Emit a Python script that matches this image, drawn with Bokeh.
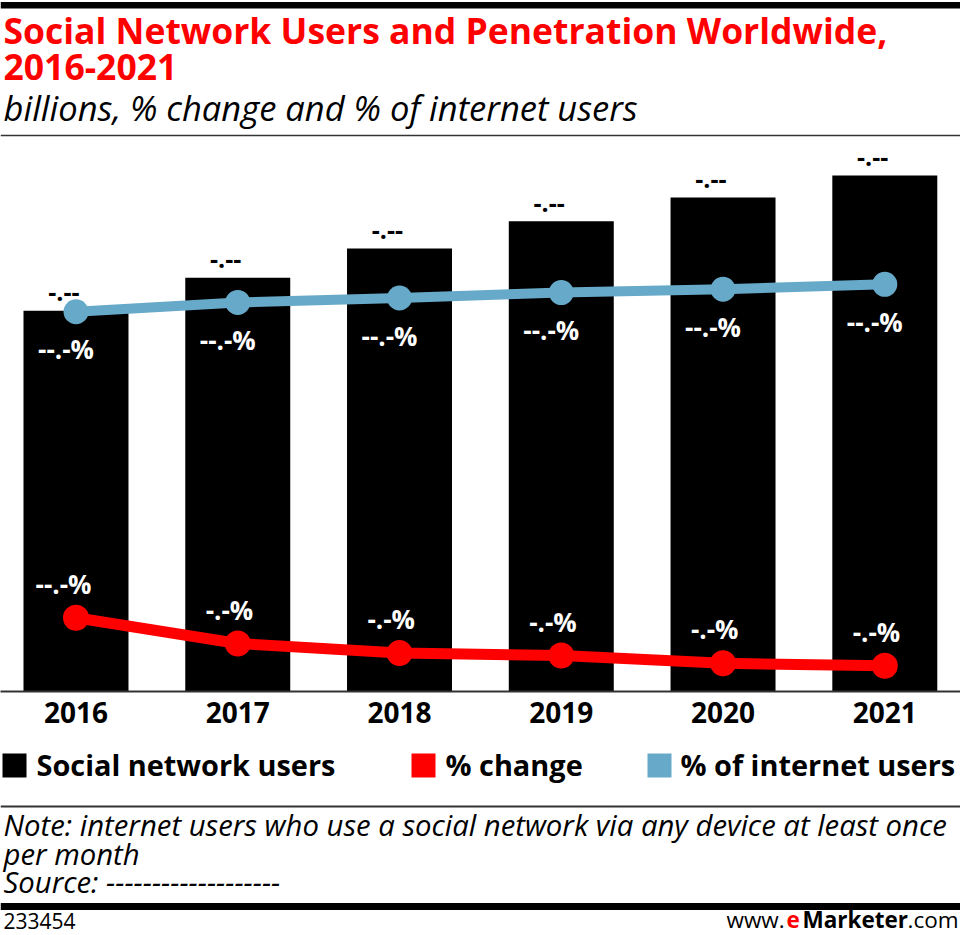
from bokeh.plotting import figure
from bokeh.models import Range1d, LinearAxis, FixedTicker, Span
from bokeh.layouts import column
from bokeh.embed import file_html
from bokeh.resources import INLINE
from bokeh.core.properties import value

# ---------------- data ----------------
years = ["2016", "2017", "2018", "2019", "2020", "2021"]
users_bn = [2.28, 2.46, 2.62, 2.77, 2.90, 3.02]          # social network users, billions
pct_change = [12.3, 8.0, 6.4, 6.0, 4.7, 4.3]              # % change
pct_internet = [69.3, 71.0, 71.8, 72.8, 73.4, 74.3]       # % of internet users
series_names = ["Social network users", "% change", "% of internet users"]
series_colors = ["#000000", "#ff0000", "#67a9c9"]
title_lines = ["Social Network Users and Penetration Worldwide,", "2016-2021"]
subtitle = "billions, % change and % of internet users"
note_lines = ["Note: internet users who use a social network via any device at least once",
              "per month",
              "Source: -------------------"]
chart_id = "233454"
brand = [("www.", "normal", "#000000"), ("e", "bold", "#ff0000"),
         ("Marketer", "bold", "#000000"), (".com", "normal", "#000000")]


def mask(s):
    return "".join("-" if c.isdigit() else c for c in s)


bar_labels = [mask(f"{v:.2f}") for v in users_bn]
change_labels = [mask(f"{v:.1f}%") for v in pct_change]
internet_labels = [mask(f"{v:.1f}%") for v in pct_internet]
idx = list(range(len(years)))

# ---------------- layout constants ----------------
W, H = 960, 935
FONT = value("Open Sans")
BASE = 690.7                      # baseline (px from top)
HA = 740
FRAME_H = round(BASE)
HB = H - HA
BIL0, BIL_PX = 0.197, 182.8
SHARE_PX, CHG_PX = 5.48, 6.0
BL = 0.38                         # baseline correction (em)


def fs(px):
    return f"{px:.1f}px"


def txt(fig, size, dy=0.0, **kw):
    kw.setdefault("text_font", FONT)
    kw.setdefault("text_baseline", "alphabetic")
    kw.setdefault("text_align", "left")
    return fig.text(text_font_size=fs(size), y_offset=dy - BL * size, **kw)


# ---------------- main figure ----------------
p = figure(width=W, height=HA, x_range=Range1d(-0.4667, 5.468), y_range=Range1d(FRAME_H, 0),
           output_backend="svg", toolbar_location=None, x_axis_type=None, y_axis_type=None,
           min_border=0, min_border_bottom=HA - FRAME_H)
p.outline_line_color = None
p.background_fill_color = "white"
p.border_fill_color = "white"
p.extra_x_ranges = {"px": Range1d(0, W)}
p.extra_y_ranges = {
    "bil": Range1d(BIL0, BIL0 + FRAME_H / BIL_PX),
    "share": Range1d(0, FRAME_H / SHARE_PX),
    "chg": Range1d(0, FRAME_H / CHG_PX),
}

ax = LinearAxis(ticker=FixedTicker(ticks=idx),
                major_label_overrides={i: y for i, y in zip(idx, years)})
ax.axis_line_color = "#333333"
ax.axis_line_width = 2
ax.major_tick_line_color = None
ax.minor_tick_line_color = None
ax.major_label_standoff = 4
ax.major_label_text_font = "Open Sans"
ax.major_label_text_font_style = "bold"
ax.major_label_text_font_size = fs(28)
ax.major_label_text_color = "black"
p.add_layout(ax, "below")

# header
txt(p, 35.5, x=[3, 3], y=[43, 80], text=title_lines, x_range_name="px",
    text_font_style="bold", text_color="#ff0000")
txt(p, 34.5, x=[3], y=[120], text=[subtitle], x_range_name="px",
    text_font_style="italic", text_color="black")
p.add_layout(Span(location=4.75, dimension="width", line_color="black", line_width=6.5))
p.add_layout(Span(location=135, dimension="width", line_color="#333333", line_width=1.5))

# bars
p.vbar(x=idx, top=users_bn, bottom=BIL0, width=0.649, y_range_name="bil",
       fill_color=series_colors[0], line_color=None)

# % of internet users
p.line(idx, pct_internet, y_range_name="share", line_color=series_colors[2], line_width=10)
p.scatter(idx, pct_internet, y_range_name="share", size=25, fill_color=series_colors[2],
          line_color=None)
txt(p, 26, dy=47.5, x=idx, y=pct_internet, text=internet_labels, y_range_name="share",
    text_font_style="bold", text_color="white", text_align="right", x_offset=18)

# bar value labels
txt(p, 25, dy=-9, x=idx, y=users_bn, text=bar_labels, y_range_name="bil",
    text_font_style="bold", text_color="black", text_align="right", x_offset=3.5)

# % change
p.line(idx, pct_change, y_range_name="chg", line_color=series_colors[1], line_width=11)
p.scatter(idx, pct_change, y_range_name="chg", size=26, fill_color=series_colors[1],
          line_color=None)
txt(p, 26, dy=-24, x=idx, y=pct_change, text=change_labels, y_range_name="chg",
    text_font_style="bold", text_color="white", text_align="right", x_offset=15.5)

# ---------------- bottom figure (legend + notes) ----------------
q = figure(width=W, height=HB, x_range=Range1d(0, W), y_range=Range1d(H, HA),
           output_backend="svg", toolbar_location=None, x_axis_type=None, y_axis_type=None,
           min_border=0)
q.outline_line_color = None
q.background_fill_color = "white"
q.border_fill_color = "white"

leg_sq_x = [14, 423, 659]
leg_tx_x = [36, 445, 680]
q.rect(x=leg_sq_x, y=[765] * 3, width=24, height=24, fill_color=series_colors, line_color=None)
txt(q, 28.9, x=leg_tx_x, y=[775] * 3, text=series_names, text_font_style="bold",
    text_color="black")

q.add_layout(Span(location=806, dimension="width", line_color="#333333", line_width=2))
txt(q, 29.3, x=[3] * 3, y=[836, 864.5, 893], text=note_lines, text_font_style="italic",
    text_color="black")
q.add_layout(Span(location=906, dimension="width", line_color="black", line_width=7))
txt(q, 21, x=[3], y=[928], text=[chart_id], text_color="black")
brand_x = [726, 786, 802, 907]
for (t, st, col), bx in zip(brand, brand_x):
    txt(q, 22.5, x=[bx], y=[928], text=[t], text_font_style=st, text_color=col)

layout = column(p, q, spacing=0)
open("out.html", "w").write(file_html(layout, INLINE))
